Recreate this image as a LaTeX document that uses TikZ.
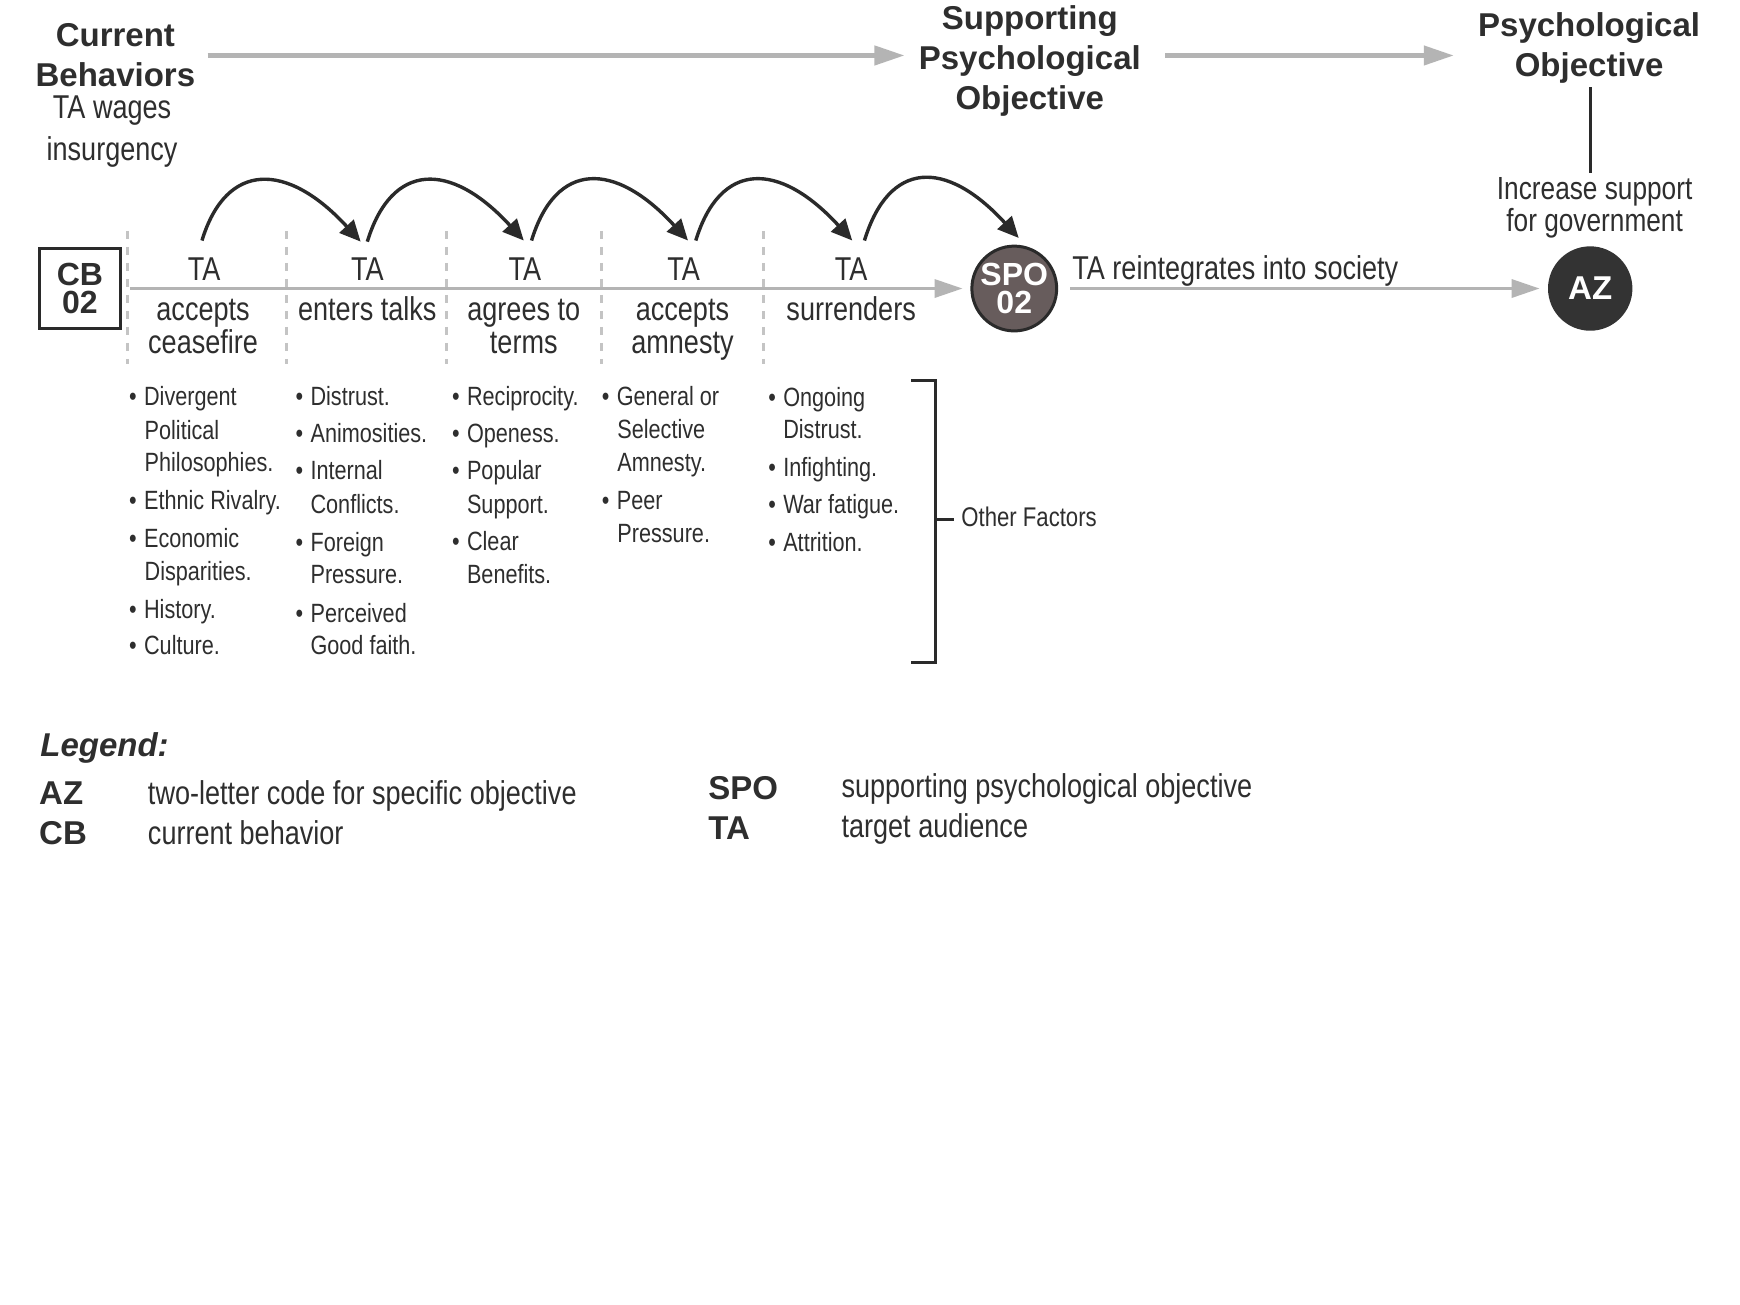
\documentclass[tikz,border=0pt]{standalone}
\usepackage{fontspec}
\setmainfont{Liberation Sans}
\newfontfamily\narrowfont[FakeStretch=0.82]{Liberation Sans}
\usetikzlibrary{arrows.meta}
\definecolor{txt}{HTML}{2E2E2E}
\definecolor{lgray}{HTML}{B4B4B4}
\definecolor{dgray}{HTML}{C4C4C4}
\definecolor{dark}{HTML}{2A2A2A}
\definecolor{spofill}{HTML}{675C5C}
\definecolor{azfill}{HTML}{333333}
\newcommand{\bul}{\makebox[7.5pt][l]{•}}
\begin{document}
\begin{tikzpicture}[x=0.55485pt,y=-0.55485pt,
  head/.style={font=\bfseries\fontsize{16.5}{20}\selectfont,align=center,text=txt,inner sep=2pt},
  lab/.style={font=\narrowfont\fontsize{16.5}{17}\selectfont,text=txt,inner sep=0pt,text height=11.9pt,text depth=3.5pt},
  multilab/.style={font=\narrowfont\fontsize{16.5}{21}\selectfont,text=txt,align=center,inner sep=2pt},
  itemtxt/.style={font=\narrowfont\fontsize{13.2}{16}\selectfont,text=txt,inner sep=0pt,anchor=west,text height=9.5pt,text depth=2.8pt},
  legkey/.style={font=\bfseries\fontsize{16.5}{18}\selectfont,text=txt,inner sep=0pt,anchor=west,text height=11.9pt,text depth=3.5pt},
  legval/.style={font=\narrowfont\fontsize{16.5}{18}\selectfont,text=txt,inner sep=0pt,anchor=west,text height=11.9pt,text depth=3.5pt},
  garrow/.style={draw=lgray,line width=2.2pt,-{Triangle[length=15pt,width=9.5pt]}},
  gline/.style={draw=lgray,line width=1.7pt,-{Triangle[length=14pt,width=9pt]}},
  curve/.style={draw=dark,line width=1.7pt,-{Triangle[length=10.5pt,width=9.5pt]}},
  sep/.style={draw=dgray,line width=1.5pt,dash pattern=on 4pt off 4pt},
  bracket/.style={draw=dark,line width=1.7pt}
]
\useasboundingbox (0,-3) rectangle (1568,1173);
\fill[white] (0,-3) rectangle (1568,1173);

% headers
\node[head] (curhead) at (104,47) {Current\\Behaviors};
\node[multilab] (curbeh) at (101,116) {TA wages\\insurgency};
\node[head] (spohead) at (928,52) {Supporting\\Psychological\\Objective};
\node[head] (pohead) at (1432,40) {Psychological\\Objective};
\node[font=\narrowfont\fontsize{16}{14.4}\selectfont,text=txt,align=center,inner sep=2pt] (goal) at (1437,184) {Increase support\\for government};

\draw[garrow,shorten <=4pt,shorten >=5pt] (curhead.east) -- (curhead.east -| spohead.west);
\draw[garrow,shorten <=10pt,shorten >=10pt] (spohead.east |- curhead.east) -- (pohead.west |- curhead.east);
\draw[draw=dark,line width=1.7pt] (pohead.south -| 1433,0) -- (goal.north -| 1433,0);

% main row
\node[draw=dark,line width=1.7pt,minimum width=40.5pt,minimum height=40pt,inner sep=0pt,
  font=\bfseries\fontsize{16}{14.4}\selectfont,text=txt,align=center] (cb) at (72,257) {CB\\02};
\node[circle,draw=dark,line width=1.5pt,fill=spofill,minimum size=41.6pt,inner sep=0pt,
  font=\bfseries\fontsize{16}{14.4}\selectfont,text=white,align=center] (spo) at (914,257) {SPO\\02};
\node[circle,fill=azfill,minimum size=42.2pt,inner sep=0pt,
  font=\bfseries\fontsize{16.5}{18}\selectfont,text=white] (az) at (1433,257) {AZ};

\foreach \xx in {115,258,402,542,688} {\draw[sep] (\xx,205) -- (\xx,325);}

\draw[gline,shorten <=3.9pt,shorten >=3.9pt] (cb.east) -- (spo.west);
\draw[gline,shorten <=6pt,shorten >=4pt] (spo.east) -- (az.west);
\node[lab,anchor=west] (reint) at (966,241) {TA reintegrates into society};

\node[lab] (ta1) at (184,242) {TA};
\node[lab] (ta2) at (331,242) {TA};
\node[lab] (ta3) at (473,242) {TA};
\node[lab] (ta4) at (616,242) {TA};
\node[lab] (ta5) at (767,242) {TA};
\node[lab] (d1a) at (183,278) {accepts};
\node[lab] (d1b) at (183,308) {ceasefire};
\node[lab] (d2a) at (331,278) {enters talks};
\node[lab] (d3a) at (472,278) {agrees to};
\node[lab] (d3b) at (472,308) {terms};
\node[lab] (d4a) at (615,278) {accepts};
\node[lab] (d4b) at (615,308) {amnesty};
\node[lab] (d5a) at (767,278) {surrenders};

\draw[curve] ([shift={(-2,-14)}]ta1.north) .. controls +(22,-72) and +(-66,-72) .. ([shift={(-6,-13)}]ta2.north);
\draw[curve] ([shift={(0,-13)}]ta2.north) .. controls +(22,-72) and +(-66,-72) .. ([shift={(-1,-14)}]ta3.north);
\draw[curve] ([shift={(6,-14)}]ta3.north) .. controls +(22,-72) and +(-66,-72) .. ([shift={(4,-14)}]ta4.north);
\draw[curve] ([shift={(11,-14)}]ta4.north) .. controls +(22,-72) and +(-66,-72) .. ([shift={(1,-14)}]ta5.north);
\draw[curve] ([shift={(12,-14)}]ta5.north) .. controls +(22,-72) and +(-66,-72) .. ([shift={(4,-6)}]spo.north);

% factor lists
\foreach \xx/\yy/\tt [count=\i] in {116/356/\bul Divergent, 130/387/Political, 130/416/Philosophies., 116/450/\bul Ethnic Rivalry., 116/484/\bul Economic, 130/514/Disparities., 116/548/\bul History., 116/581/\bul Culture.}
  {\node[itemtxt] (fa\i) at (\xx,\yy) {\tt};}
\foreach \xx/\yy/\tt [count=\i] in {266/356/\bul Distrust., 266/390/\bul Animosities., 266/423/\bul Internal, 279.5/454/Conflicts., 266/488/\bul Foreign, 279.5/517/Pressure., 266/552/\bul Perceived, 279.5/581/Good faith.}
  {\node[itemtxt] (fb\i) at (\xx,\yy) {\tt};}
\foreach \xx/\yy/\tt [count=\i] in {407/356/\bul Reciprocity., 407/390/\bul Openess., 407/423/\bul Popular, 420.5/454/Support., 407/487/\bul Clear, 420.5/517/Benefits.}
  {\node[itemtxt] (fc\i) at (\xx,\yy) {\tt};}
\foreach \xx/\yy/\tt [count=\i] in {542/356/\bul General or, 556/386/Selective, 556/416/Amnesty., 542/450/\bul Peer, 556/480/Pressure.}
  {\node[itemtxt] (fd\i) at (\xx,\yy) {\tt};}
\foreach \xx/\yy/\tt [count=\i] in {692/357/\bul Ongoing, 705.5/386/Distrust., 692/420/\bul Infighting., 692/454/\bul War fatigue., 692/488/\bul Attrition.}
  {\node[itemtxt] (fe\i) at (\xx,\yy) {\tt};}

% bracket
\draw[bracket] (821,340) -| (843,594) -- (821,594);
\node[itemtxt,font=\narrowfont\fontsize{13.5}{16}\selectfont] (other) at (866,465) {Other Factors};
\draw[bracket] (843,465) -- ([xshift=-3.3pt]other.west);

% legend
\node[legkey,font=\bfseries\itshape\fontsize{16.5}{18}\selectfont] (legend) at (36,671) {Legend:};
\node[legkey] (kaz) at (35,714) {AZ};
\node[legkey] (kcb) at (35,750) {CB};
\node[legval] (vaz) at (133,714) {two-letter code for specific objective};
\node[legval] (vcb) at (133,750) {current behavior};
\node[legkey] (kspo) at (638,710) {SPO};
\node[legkey] (kta) at (638,746) {TA};
\node[legval] (vspo) at (758,708) {supporting psychological objective};
\node[legval] (vta) at (758,744) {target audience};
\end{tikzpicture}
\end{document}
